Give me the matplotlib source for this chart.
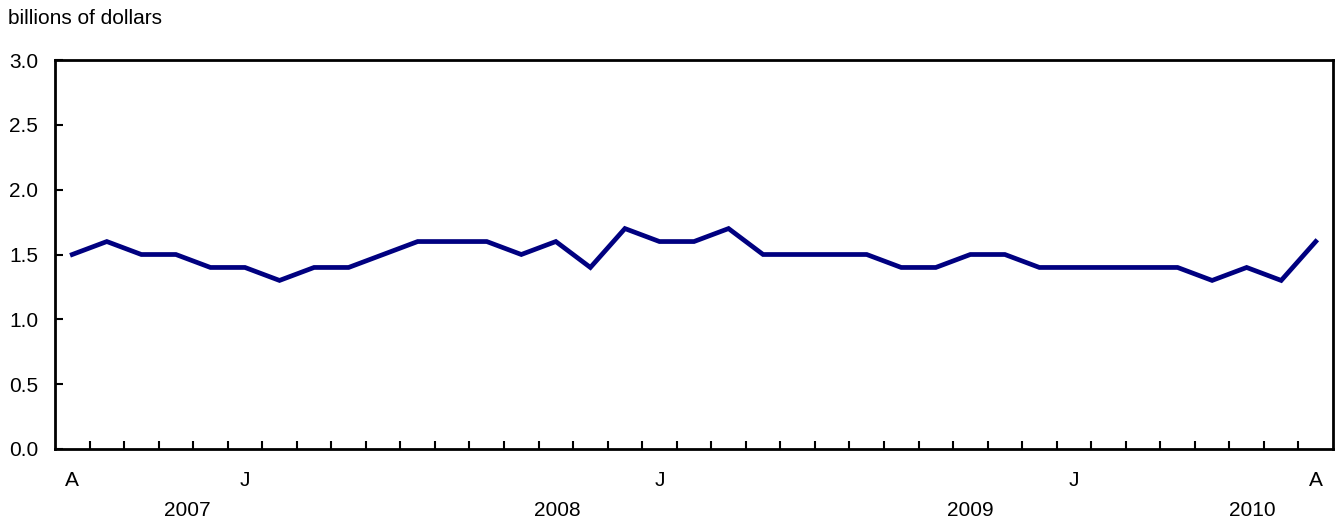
import numpy as np
import matplotlib.pyplot as plt

plt.rcParams["font.family"] = ["Liberation Sans", "DejaVu Sans"]

# monthly values, Apr 2007 .. Apr 2010 (billions of dollars)
values = [1.5, 1.6, 1.5, 1.5, 1.4, 1.4, 1.3, 1.4, 1.4, 1.5, 1.6, 1.6, 1.6,
          1.5, 1.6, 1.4, 1.7, 1.6, 1.6, 1.7, 1.5, 1.5, 1.5, 1.5, 1.4, 1.4,
          1.5, 1.5, 1.4, 1.4, 1.4, 1.4, 1.4, 1.3, 1.4, 1.3, 1.6]
month_label_idx = [0, 5, 17, 29, 36]
month_labels = ["A", "J", "J", "J", "A"]
year_pos = [3.33, 14.03, 26.0, 34.17]
year_labels = ["2007", "2008", "2009", "2010"]
y_ticks = [0.0, 0.5, 1.0, 1.5, 2.0, 2.5, 3.0]

x = np.arange(len(values))
fs = 15

fig = plt.figure(figsize=(13.41, 5.25), dpi=100)
ax = fig.add_axes([55 / 1341, 1 - 449 / 525, (1333 - 55) / 1341, (449 - 60) / 525])

ax.plot(x, values, color="#000080", linewidth=3.4, solid_joinstyle="miter")

ax.set_xlim(-0.5, len(values) - 0.5)
ax.set_ylim(0, 3.0)
ax.set_yticks(y_ticks)
ax.set_yticklabels([f"{v:.1f}" for v in y_ticks], fontsize=fs)

# month boundary ticks
ax.set_xticks(np.arange(0.5, len(values) - 1, 1.0))
ax.set_xticklabels([])
ax.tick_params(axis="x", direction="in", length=6, width=1.5, color="black")
ax.tick_params(axis="y", direction="in", length=6, width=1.5, color="black", pad=12)

for s in ax.spines.values():
    s.set_linewidth(2)
    s.set_color("black")

trans = ax.get_xaxis_transform()
for i, lab in zip(month_label_idx, month_labels):
    ax.text(x[i], -0.082, lab, transform=trans, ha="center", va="center", fontsize=fs)
for p, lab in zip(year_pos, year_labels):
    ax.text(p, -0.157, lab, transform=trans, ha="center", va="center", fontsize=fs)

fig.text(8 / 1341, 1 - 19 / 525, "billions of dollars", ha="left", va="center", fontsize=fs)

fig.savefig("out.png", dpi=100)
